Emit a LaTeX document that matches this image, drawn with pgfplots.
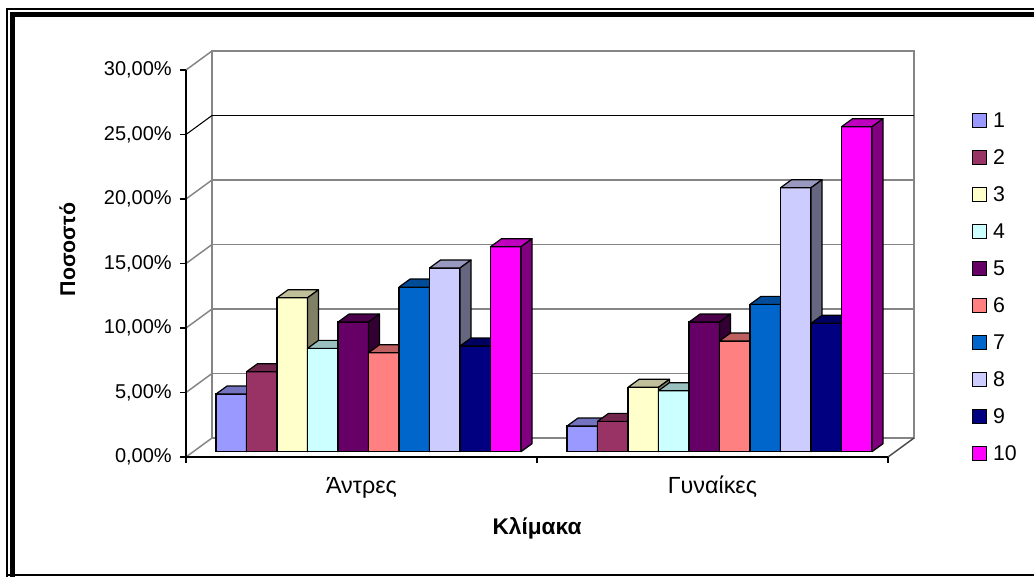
\documentclass[border=0pt]{standalone}
\usepackage{pgfplots}
\pgfplotsset{compat=1.18}
\usepackage{pgfplotstable}
\usepackage{fontspec}
\setmainfont{Liberation Sans}
\pgfdeclareplotmark{void}{}

\definecolor{c1}{HTML}{9999FF}
\definecolor{c2}{HTML}{993366}
\definecolor{c3}{HTML}{FFFFCC}
\definecolor{c4}{HTML}{CCFFFF}
\definecolor{c5}{HTML}{660066}
\definecolor{c6}{HTML}{FF8080}
\definecolor{c7}{HTML}{0066CC}
\definecolor{c8}{HTML}{CCCCFF}
\definecolor{c9}{HTML}{000080}
\definecolor{c10}{HTML}{FF00FF}
\definecolor{gridgray}{HTML}{858585}

% rows: 0 = Άντρες, 1 = Γυναίκες ; columns: scale values 1..10 (percent)
\pgfplotstableread{
cat s1 s2 s3 s4 s5 s6 s7 s8 s9 s10
0 4.47 6.20 11.93 8.01 10.05 7.67 12.76 14.24 8.19 15.89
1 1.99 2.35 4.99 4.73 10.05 8.58 11.42 20.46 9.95 25.19
}\data

\newcommand\tfont{\fontsize{16}{19}\selectfont}
\newcommand\yfont{\fontsize{15}{18}\selectfont}
\newcommand\cfont{\fontsize{17.5}{21}\selectfont}

\pgfplotsset{
  sqlegend/.style={legend image code/.code={\draw[##1, line width=0.75pt] (0pt,0.5pt) rectangle (10.5pt,11pt);}},
}

\begin{document}
\begin{tikzpicture}[x=0.75pt,y=0.75pt]
\useasboundingbox (0,0) rectangle (1034,576);
\fill[white] (0,0) rectangle (1034,576);
% outer frame
\draw[line width=1.5pt] (7,-10) -- (7,567) -- (1040,567);
\draw[line width=3.75pt] (12.5,-10) -- (12.5,561.5) -- (1040,561.5);
\draw[line width=1.5pt] (6,1) -- (1040,1);

% back wall
\begin{axis}[
  at={(159pt,103.5pt)}, anchor=south west,
  scale only axis, width=526.5pt, height=290.25pt,
  xmin=0, xmax=1, ymin=0, ymax=30,
  xtick=\empty, ytick={0,5,...,30}, yticklabels={},
  tick style={draw=none},
  ymajorgrids, major grid style={gridgray, line width=1.2pt},
  axis line style={gridgray, line width=1.2pt},
  extra y ticks={25}, extra y tick labels={},
  extra y tick style={major grid style={black, line width=0.8pt}},
]
\end{axis}

% side wall and floor diagonals
\foreach \k in {0,1,2,3,4,6} \draw[gridgray, line width=1.1pt] (186,{119+64.5*\k}) -- ++(26,19);
\draw[black, line width=0.8pt] (186,{119+64.5*5}) -- ++(26,19);
\draw[black!70, line width=1.1pt] (888,119) -- (914,138);

% front plane: axes, ticks, labels
\begin{axis}[
  at={(139.5pt,89.25pt)}, anchor=south west,
  scale only axis, width=526.5pt, height=290.25pt,
  xmin=-0.5, xmax=1.5, ymin=0, ymax=30,
  axis x line*=bottom, axis y line*=left,
  axis line style={black, line width=1pt, -},
  xtick={-0.5,0.5,1.5}, xticklabels={},
  ytick={0,5,...,30},
  yticklabels={{0,00\%},{5,00\%},{10,00\%},{15,00\%},{20,00\%},{25,00\%},{30,00\%}},
  tick align=outside, major tick length=4.5pt,
  tick style={black, line width=0.8pt},
  extra x ticks={0,1}, extra x tick labels={Άντρες,Γυναίκες},
  extra x tick style={major tick length=0pt},
  xticklabel style={font=\cfont, anchor=base, inner sep=0pt, yshift=-27pt},
  yticklabel style={font=\yfont, anchor=east, inner sep=0pt, xshift=-6pt},
  xlabel={Κλίμακα}, ylabel={Ποσοστό},
  xlabel style={at={(axis description cs:0.5,-0.199)}, anchor=base, inner sep=0pt, font=\fontsize{17}{20}\selectfont\bfseries},
  ylabel style={at={(axis description cs:-0.1581,0.5362)}, anchor=base, inner sep=0pt, font=\tfont\bfseries},
]
\end{axis}

% bars plane
\begin{axis}[
  at={(144.75pt,93.225pt)}, anchor=south west,
  scale only axis, width=526.5pt, height=290.25pt,
  xmin=-0.5, xmax=1.5, ymin=0, ymax=30,
  hide axis, clip=false,
  legend style={at={(axis description cs:1.1097,0.8765)}, anchor=north west,
    draw=none, fill=none, inner sep=0pt, outer sep=0pt,
    row sep=14.9pt, column sep=4.5pt, font=\tfont,
    cells={anchor=base west}, nodes={inner sep=0pt}},
]
\pgfplotsinvokeforeach{1,...,10}{
  \addplot[ybar, bar width=22.875pt, bar shift=0pt, fill=c#1, draw=black,
    line width=0.9pt, sqlegend]
    table[x expr=\thisrow{cat}+(#1-5.5)*0.08689, y=s#1]{\data};
  \addlegendentry{#1}
  \addplot[forget plot, scatter, only marks, mark=void,
    visualization depends on={\thisrow{s#1} \as \val},
    scatter/@pre marker code/.code={%
      \pgfmathsetmacro\h{\val*9.675}%
      \filldraw[fill=c#1, draw=black, line width=0.9pt, line join=round]
        (-11.4375pt,-\h pt) rectangle (11.4375pt,0pt);%
      \filldraw[fill=c#1!75!black, draw=black, line width=0.9pt, line join=round]
        (-11.4375pt,0pt) -- ++(8.25pt,6pt) -- ++(22.875pt,0pt) -- ++(-8.25pt,-6pt) -- cycle;%
      \filldraw[fill=c#1!50!black, draw=black, line width=0.9pt, line join=round]
        (11.4375pt,0pt) -- ++(8.25pt,6pt) -- ++(0pt,-\h pt) -- ++(-8.25pt,-6pt) -- cycle;%
    },
    scatter/@post marker code/.code={}]
    table[x expr=\thisrow{cat}+(#1-5.5)*0.08689, y=s#1]{\data};
}
\end{axis}
\end{tikzpicture}
\end{document}
